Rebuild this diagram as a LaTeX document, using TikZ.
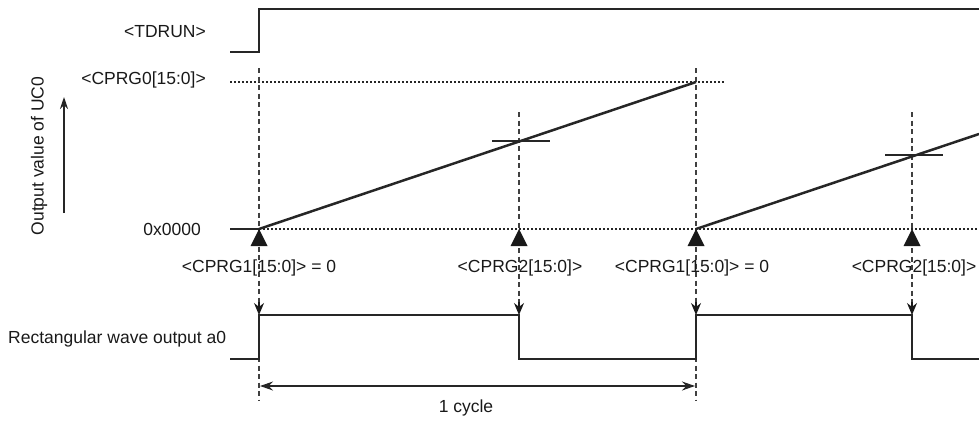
\documentclass[tikz,border=0pt]{standalone}
\usepackage{fontspec}
\setmainfont{Liberation Sans}
\usetikzlibrary{arrows.meta}
\begin{document}
\begin{tikzpicture}[x=1pt,y=-1pt,
  sig/.style={line width=2.7pt,color=black!85,line join=miter},
  guide/.style={dash pattern=on 5pt off 3.5pt,line width=1.1pt,color=black!75},
  lvl/.style={dash pattern=on 1.8pt off 2.2pt,line width=1.4pt,color=black!85},
  lbl/.style={font=\fontsize{17.5}{19}\selectfont,inner sep=0pt,text=black!90},
  tri/.style={fill=black!90,draw=none},
  thin/.style={line width=1.1pt,color=black!85},
  dtip/.style={-{Stealth[length=12pt,width=10pt]}}
]
\useasboundingbox (0,0) rectangle (979,421);
% coordinates
\coordinate (t0) at (259,229);
\coordinate (t1) at (519,229);
\coordinate (t2) at (696,229);
\coordinate (t3) at (912,229);
% labels left
\node[lbl,anchor=east] (ltd) at (206,32) {<TDRUN>};
\node[lbl,anchor=east] (lc0) at (206,80) {<CPRG0[15:0]>};
\node[lbl,anchor=east] (lz) at (201,229) {0x0000};
\node[lbl,anchor=west] (lrw) at (8,339) {Rectangular wave output a0};
\node[lbl,rotate=90] (lov) at (39,156) {Output value of UC0};
\coordinate (ova) at (64,213);
\coordinate (ovb) at (64,97);
\draw[thin,-{Stealth[length=12pt,width=8pt]}] (ova) -- (ovb);
% TDRUN
\draw[sig] (230,52) -- (259,52) -- (259,9) -- (979,9);
% dotted levels
\draw[lvl] (230,82) -- (725,82);
\draw[lvl] (259,229) -- (979,229);
\draw[sig] (230,229) -- (259,229);
% guides
\draw[guide] (259,68) -- (259,400);
\draw[guide] (696,68) -- (696,400);
\draw[guide] (519,112) -- (519,312);
\draw[guide] (912,112) -- (912,312);
% ramps
\draw[sig,line width=2.5pt] (259,229) -- (696,82);
\draw[sig,line width=2.5pt] (696,229) -- (979,134);
\draw[thin] (492,141) -- (550,141);
\draw[thin] (885,155) -- (943,155);
% triangles
\foreach \x in {259,519,696,912}{
  \fill[tri] (\x,229) -- (\x-8.5,246) -- (\x+8.5,246) -- cycle;
}
% labels
\node[lbl] (c1a) at (259,268) {<CPRG1[15:0]> = 0};
\node[lbl] (c2a) at (520,268) {<CPRG2[15:0]>};
\node[lbl] (c1b) at (692,268) {<CPRG1[15:0]> = 0};
\node[lbl] (c2b) at (914,268) {<CPRG2[15:0]>};
% down arrows on guides
\foreach \x in {259,519,696,912}{
  \draw[line width=1.1pt,black!90,dtip] (\x,302) -- (\x,315);
}
% rectangular wave
\draw[sig] (230,359) -- (259,359) -- (259,315) -- (519,315) -- (519,359) -- (696,359) -- (696,315) -- (912,315) -- (912,359) -- (979,359);
% 1 cycle
\coordinate (cyA) at (260,386);
\coordinate (cyB) at (695,386);
\draw[thin,{Stealth[length=13pt,width=9pt]}-{Stealth[length=13pt,width=9pt]}] (cyA) -- (cyB);
\node[lbl] (cyc) at (466,408) {1 cycle};
\end{tikzpicture}
\end{document}
